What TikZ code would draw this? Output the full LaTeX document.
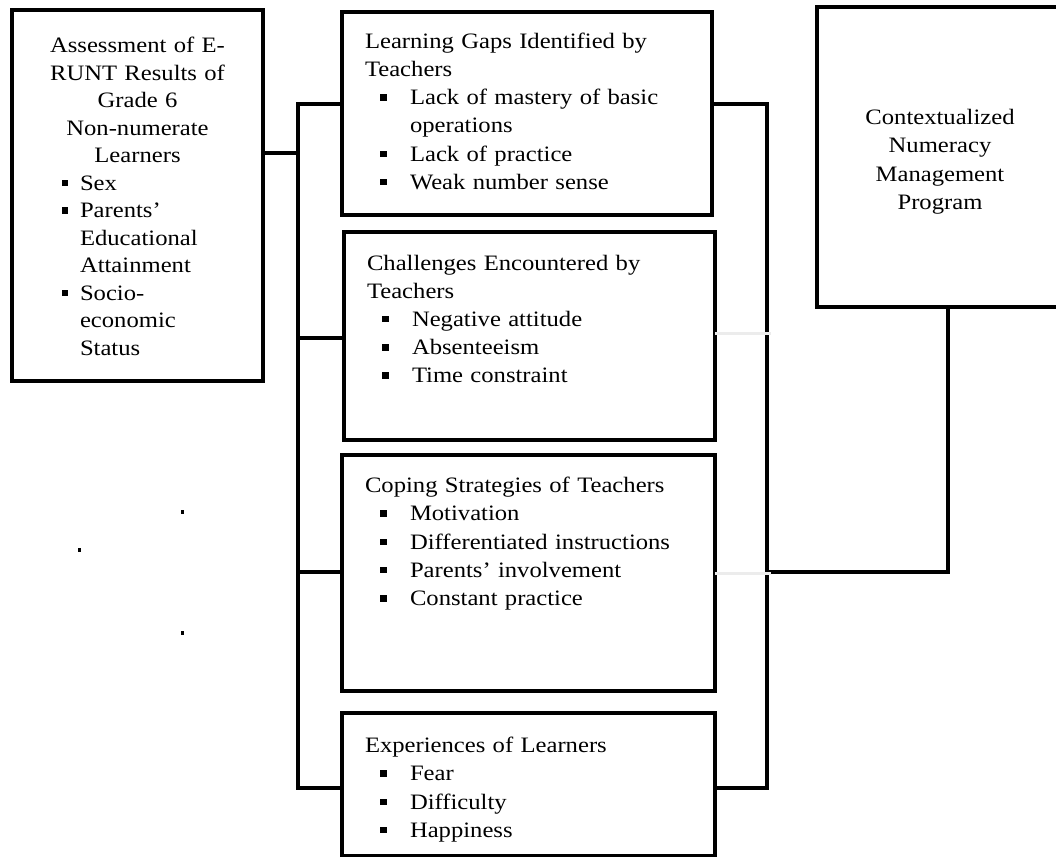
\documentclass[tikz,border=0pt]{standalone}
\usepackage{fontspec}
\setmainfont{Liberation Serif}[FakeStretch=1.12]
\definecolor{lgray}{RGB}{236,236,236}
\newcommand{\bul}{\hspace*{15pt}\rule[4pt]{6.5pt}{6.5pt}\hspace*{23.5pt}}
\newcommand{\cont}{\hspace*{45pt}}
\newcommand{\lbul}{\hspace*{50pt}\rule[4pt]{6pt}{6.5pt}\hspace*{12pt}}
\newcommand{\lcont}{\hspace*{68pt}}
\newcommand{\ctr}[1]{\makebox[251pt][c]{#1}}
\begin{document}
\begin{tikzpicture}[x=1pt,y=-1pt,
  box/.style={draw, line width=4pt, outer sep=0pt, inner sep=0pt, anchor=north west},
  txt/.style={anchor=north west, inner sep=0pt, outer sep=0pt, text width=#1, align=left,
              font=\fontsize{22}{28.2}\selectfont},
  link/.style={line width=4pt},
  faint/.style={line width=3pt, draw=lgray}]
\clip (0,0) rectangle (1056,856);
\useasboundingbox (0,0) rectangle (1056,856);

% boxes
\node[box, minimum width=251pt, minimum height=371pt] (L) at (12,10) {};
\node[box, minimum width=370pt, minimum height=203pt] (B1) at (342,12) {};
\node[box, minimum width=371pt, minimum height=208pt] (B2) at (344,232) {};
\node[box, minimum width=373pt, minimum height=236pt] (B3) at (342,455) {};
\node[box, minimum width=373pt, minimum height=143pt] (B4) at (342,713) {};
\node[box, minimum width=253pt, minimum height=300pt] (R) at (817,7) {};

% texts
\node[txt=251pt, font=\fontsize{22}{27.5}\selectfont] (tL) at (12,33.5) {\strut
  \ctr{Assessment of E-}\\
  \ctr{RUNT Results of}\\
  \ctr{Grade 6}\\
  \ctr{Non-numerate}\\
  \ctr{Learners}\\
  \lbul Sex\\
  \lbul Parents'\\
  \lcont Educational\\
  \lcont Attainment\\
  \lbul Socio-\\
  \lcont economic\\
  \lcont Status};
\node[txt=330pt] (t1) at (365,28.5) {\strut Learning Gaps Identified by\\
  Teachers\\
  \bul Lack of mastery of basic\\
  \cont operations\\
  \bul Lack of practice\\
  \bul Weak number sense};
\node[txt=330pt] (t2) at (367,250.3) {\strut Challenges Encountered by\\
  Teachers\\
  \bul Negative attitude\\
  \bul Absenteeism\\
  \bul Time constraint};
\node[txt=340pt] (t3) at (365,473) {\strut Coping Strategies of Teachers\\
  \bul Motivation\\
  \bul Differentiated instructions\\
  \bul Parents' involvement\\
  \bul Constant practice};
\node[txt=330pt] (t4) at (365,733) {\strut Experiences of Learners\\
  \bul Fear\\
  \bul Difficulty\\
  \bul Happiness};
\node[txt=220pt, anchor=north, align=center] (tR) at (940,105) {\strut Contextualized\\
  Numeracy\\ Management\\ Program};

% junction points
\coordinate (jL) at (298,153);
\coordinate (lt) at (298,104);
\coordinate (lb) at (298,788);
\coordinate (rt) at (767,104);
\coordinate (rb) at (767,788);
\coordinate (j2) at (298,338);
\coordinate (j3) at (298,572);
\coordinate (k3) at (767,572);
\coordinate (k2) at (767,333);
\coordinate (kR) at (948,572);

% connectors
\draw[link] (lt -| B1.west) -- (lt) -- (lb) -- (lb -| B4.west);
\draw[link] (rt -| B1.east) -- (rt) -- (rb) -- (rb -| B4.east);
\draw[link] (jL -| L.east) -- (jL);
\draw[link] (j2) -- (j2 -| B2.west);
\draw[link] (j3) -- (j3 -| B3.west);
\draw[link] (k3) -- (kR) -- (kR |- R.south);
\draw[faint] (k2 -| B2.east) -- ([xshift=4pt]k2);
\draw[faint] ([yshift=-1pt]k3 -| B3.east) -- ([xshift=4pt,yshift=-1pt]k3);

% stray marks
\fill (181,510) rectangle (183.5,514);
\fill (78,548) rectangle (80.5,552);
\fill (181,631) rectangle (183.5,635);
\end{tikzpicture}
\end{document}
